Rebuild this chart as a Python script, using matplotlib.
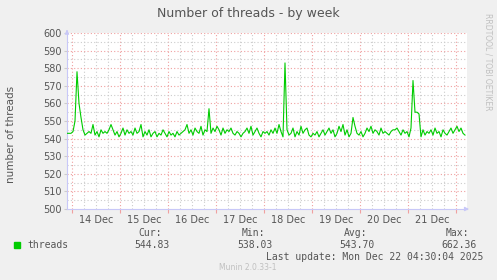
import numpy as np
import matplotlib
matplotlib.use("Agg")
import matplotlib.pyplot as plt

# hourly averages, starting Dec 13 21:30
threads = [
    543, 543, 543, 544, 550, 578, 560, 552, 545, 542, 543, 544, 543, 548, 542, 544, 541, 545, 543, 544,
    543, 545, 548, 545, 542, 544, 541, 543, 546, 542, 545, 543, 544, 542, 546, 543, 544, 548, 541, 544,
    542, 545, 541, 543, 544, 541, 543, 542, 545, 543, 541, 544, 542, 543, 541, 544, 542, 543, 544, 545,
    548, 543, 545, 542, 546, 544, 543, 547, 542, 545, 544, 557, 543, 546, 544, 547, 545, 542, 546, 543,
    545, 544, 546, 543, 542, 544, 543, 541, 543, 544, 546, 543, 547, 542, 544, 546, 543, 541, 544, 543,
    544, 542, 545, 543, 546, 543, 548, 544, 541, 583, 545, 542, 543, 546, 541, 544, 542, 547, 543, 545,
    546, 542, 541, 543, 542, 544, 541, 543, 545, 542, 544, 546, 543, 545, 541, 543, 547, 544, 548, 542,
    545, 541, 543, 552, 547, 543, 542, 544, 541, 543, 546, 544, 547, 543, 545, 544, 542, 546, 543, 544,
    543, 542, 544, 545, 545, 546, 544, 542, 545, 543, 544, 541, 546, 573, 555, 555, 554, 541, 545, 542,
    544, 543, 545, 542, 546, 543, 544, 541, 545, 543, 542, 544, 546, 543, 545, 547, 544, 546, 543, 542,
]
day_labels = ["14 Dec", "15 Dec", "16 Dec", "17 Dec", "18 Dec", "19 Dec", "20 Dec", "21 Dec"]
stats_names = ["Cur:", "Min:", "Avg:", "Max:"]
stats_values = ["544.83", "538.03", "543.70", "662.36"]

hours = np.arange(len(threads)) - 2.5  # hours since Dec 14 00:00

fig = plt.figure(figsize=(4.97, 2.80), dpi=100, facecolor="#f0f0f0")
ax = fig.add_axes([67 / 497, 71 / 280, 400 / 497, 176 / 280])
ax.set_facecolor("white")

txt = "#555555"
axis_col = "#c8c8f8"

# grid
for h in range(0, 198, 6):
    col = "#f0a0a0" if h % 24 == 0 else "#cccccc"
    ax.axvline(h, color=col, lw=0.8, ls=(0, (1, 2)), zorder=1)
for v in range(505, 601, 5):
    col = "#f0a0a0" if v % 10 == 0 else "#cccccc"
    ax.axhline(v, color=col, lw=0.8, ls=(0, (1, 2)), zorder=1)

ax.plot(hours, threads, color="#00cc00", lw=0.8, zorder=3)

ax.set_xlim(-2.5, 197.5)
ax.set_ylim(500, 600)

ax.set_xticks([12 + 24 * i for i in range(len(day_labels))], labels=day_labels)
ax.set_xticks(range(0, 198, 24), minor=True)
ax.tick_params(axis="x", which="major", length=0, pad=4, labelsize=7, labelcolor=txt)
ax.tick_params(axis="x", which="minor", length=3, color="#f0a0a0", width=0.8)
ax.set_yticks(range(500, 601, 10))
ax.tick_params(axis="y", length=2, color="#cccccc", pad=2, labelsize=7, labelcolor=txt)

for s in ["top", "right"]:
    ax.spines[s].set_visible(False)
for s in ["left", "bottom"]:
    ax.spines[s].set_color(axis_col)
ax.annotate("", xy=(0, 1.035), xytext=(0, 0.99), xycoords="axes fraction",
            arrowprops=dict(arrowstyle="-|>", color=axis_col, lw=0.8, mutation_scale=6))
ax.annotate("", xy=(1.012, 0), xytext=(0.99, 0), xycoords="axes fraction",
            arrowprops=dict(arrowstyle="-|>", color=axis_col, lw=0.8, mutation_scale=6))

fig.text(0.5, 1 - 13 / 280, "Number of threads - by week", ha="center", va="center",
         fontsize=9, color=txt)
fig.text(11 / 497, 0.5 + 0.02, "number of threads", rotation=90, ha="center", va="center",
         fontsize=7.5, color=txt)
fig.text(488 / 497, 1 - 62 / 280, "RRDTOOL / TOBI OETIKER", rotation=270, ha="center",
         va="center", fontsize=5.5, color="#c0c0c0")

mono = "DejaVu Sans Mono"
fig.patches.append(plt.Rectangle((14 / 497, 1 - 248 / 280), 6 / 497, 6 / 280,
                                 transform=fig.transFigure, color="#00cc00"))
fig.text(27 / 497, 1 - 245 / 280, "threads", family=mono, fontsize=7, color=txt, va="center")
name_right = [162, 265, 367, 469]
val_right = [170, 273, 375, 477]
for n, v, xn, xv in zip(stats_names, stats_values, name_right, val_right):
    fig.text(xn / 497, 1 - 233 / 280, n, family=mono, fontsize=7, color=txt, ha="right", va="center")
    fig.text(xv / 497, 1 - 245 / 280, v, family=mono, fontsize=7, color=txt, ha="right", va="center")
fig.text(483 / 497, 1 - 257 / 280, "Last update: Mon Dec 22 04:30:04 2025", family=mono,
         fontsize=7, color=txt, ha="right", va="center")
fig.text(248 / 497, 1 - 268 / 280, "Munin 2.0.33-1", fontsize=5.5, color="#c0c0c0",
         ha="center", va="center")

fig.savefig("out.png", dpi=100, facecolor=fig.get_facecolor())
